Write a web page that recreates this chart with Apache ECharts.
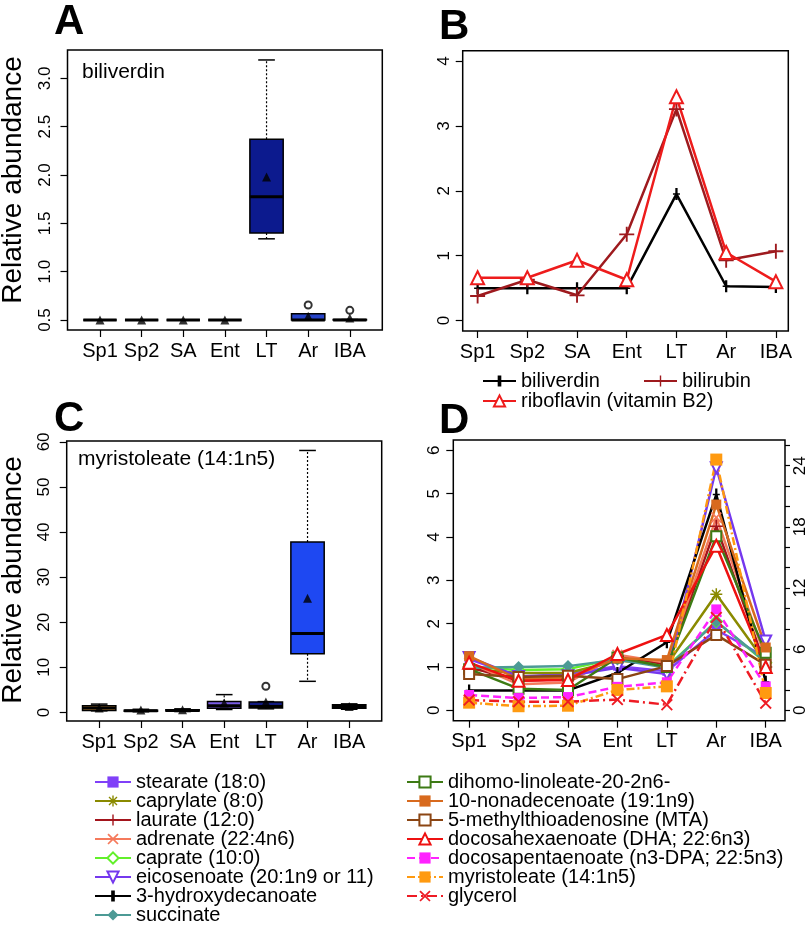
<!DOCTYPE html>
<html>
<head>
<meta charset="utf-8">
<script src="https://cdn.jsdelivr.net/npm/echarts@6/dist/echarts.min.js"></script>
<style>
html, body { margin: 0; padding: 0; background: #fff; }
#chart { width: 809px; height: 929px; }
</style>
</head>
<body>
<div id="chart"></div>
<script>
var categories = ['Sp1', 'Sp2', 'SA', 'Ent', 'LT', 'Ar', 'IBA'];
var catIdx = [0, 1, 2, 3, 4, 5, 6];

// A: biliverdin box stats [min, Q1, median, Q3, max]
var biliverdinBox = [
	[0.5, 0.5, 0.5, 0.5, 0.5],
	[0.5, 0.5, 0.5, 0.5, 0.5],
	[0.5, 0.5, 0.5, 0.5, 0.5],
	[0.5, 0.5, 0.5, 0.5, 0.5],
	[1.34, 1.40, 1.775, 2.37, 3.19],
	[0.5, 0.5, 0.5, 0.565, 0.565],
	[0.5, 0.5, 0.5, 0.505, 0.505]
];
var biliverdinMean = [0.5, 0.5, 0.5, 0.5, 1.98, 0.54, 0.52];
var biliverdinOutliers = [[5, 0.655], [6, 0.60]];
var biliverdinFill = ['#000', '#000', '#000', '#000', '#0c1a8e', '#2643c8', '#000'];

// B
var bBiliverdin = [0.5, 0.5, 0.5, 0.5, 1.95, 0.53, 0.52];
var bBilirubin = [0.38, 0.63, 0.39, 1.33, 3.26, 0.93, 1.07];
var bRiboflavin = [0.66, 0.66, 0.93, 0.63, 3.45, 1.05, 0.6];

// C: myristoleate box stats
var myristoleateBox = [
	[0.35, 0.45, 1.0, 1.5, 1.85],
	[0.15, 0.25, 0.35, 0.5, 0.7],
	[0.2, 0.3, 0.45, 0.6, 0.8],
	[0.65, 0.95, 1.5, 2.45, 3.95],
	[0.8, 1.0, 1.3, 2.3, 2.4],
	[6.9, 13.0, 17.5, 37.8, 58.1],
	[0.7, 0.95, 1.3, 1.7, 1.9]
];
var myristoleateMean = [1.0, 0.55, 0.6, 2.1, 2.3, 25.3, 1.3];
var myristoleateOutliers = [[4, 5.8]];
var myristoleateFill = ['#e8a040', '#1a1a1a', '#1a1a1a', '#7a5ce6', '#111a80', '#1e48f2', '#1a1a1a'];

// D: left axis
var stearate = [1.18, 0.78, 0.84, 1.02, 0.9, 1.86, 1.22];
var caprylate = [0.95, 0.86, 0.86, 1.15, 1.05, 2.68, 1.1];
var laurate = [1.0, 0.68, 0.72, 1.25, 1.05, 4.25, 1.0];
var adrenate = [1.1, 0.6, 0.64, 1.28, 1.1, 4.45, 1.2];
var caprate = [1.0, 0.93, 0.95, 1.2, 1.0, 2.05, 1.1];
var eicosenoate = [1.22, 0.78, 0.8, 0.98, 0.84, 5.6, 1.6];
var hydroxydecanoate = [0.46, 0.46, 0.46, 0.86, 1.57, 4.98, 0.66];
var succinate = [0.98, 1.0, 1.02, 1.17, 0.98, 2.05, 1.12];
var dihomoLinoleate = [0.95, 0.5, 0.47, 1.22, 1.0, 4.02, 1.33];
var nonadecenoate = [1.25, 0.72, 0.75, 1.2, 1.16, 4.75, 1.45];
var mta = [0.84, 0.77, 0.8, 0.72, 1.02, 1.74, 1.05];
var dha = [1.1, 0.68, 0.7, 1.3, 1.74, 3.8, 1.0];
// D: right axis
var dpa = [1.5, 1.2, 1.3, 2.3, 2.75, 9.9, 2.35];
var myristoleateD = [0.75, 0.4, 0.45, 2.0, 2.35, 24.6, 1.7];
var glycerol = [1.0, 0.85, 0.85, 1.05, 0.55, 9.1, 0.7];

var aTicks = [0.5, 1.0, 1.5, 2.0, 2.5, 3.0];
var bTicks = [0, 1, 2, 3, 4];
var cTicks = [0, 10, 20, 30, 40, 50, 60];
var dTicks = [0, 1, 2, 3, 4, 5, 6];
var dRightTicks = [0, 2, 4, 6, 8, 10, 12, 14, 16, 18, 20, 22, 24, 26];
var dRightLabels = [0, 6, 12, 18, 24];

var font = "'Liberation Sans', Arial, sans-serif";
var PLUS = 'path://M-1,-8H1V-1H8V1H1V8H-1V1H-8V-1H-1Z';
var VBAR = 'path://M-1.3,-8H1.3V-1H4V1H1.3V8H-1.3V1H-4V-1H-1.3Z';
var CROSS = 'path://M-6.4,-5L-5,-6.4L0,-1.4L5,-6.4L6.4,-5L1.4,0L6.4,5L5,6.4L0,1.4L-5,6.4L-6.4,5L-1.4,0Z';
var STAR = 'path://M-1,-8H1V-1H8V1H1V8H-1V1H-8V-1H-1ZM-6.4,-5L-5,-6.4L0,-1.4L5,-6.4L6.4,-5L1.4,0L6.4,5L5,6.4L0,1.4L-5,6.4L-6.4,5L-1.4,0Z';

function pairs(vals) {
	return vals.map(function (v, i) { return [i, v]; });
}
function boxData(stats) {
	return stats.map(function (s, i) { return [i].concat(s); });
}

function xCat(grid, min, max) {
	return {
		type: 'value', gridIndex: grid, min: min, max: max,
		axisLine: { show: false, onZero: false }, splitLine: { show: false },
		axisTick: { customValues: catIdx, length: 7, lineStyle: { color: '#000', width: 1.2 } },
		axisLabel: {
			customValues: catIdx, color: '#000', fontSize: 20, fontFamily: font, margin: 11,
			formatter: function (v) { return categories[Math.round(v)]; }
		}
	};
}
function yVal(grid, min, max, ticks, labels, fmt, margin, pos) {
	return {
		type: 'value', gridIndex: grid, min: min, max: max, position: pos || 'left',
		axisLine: { show: false, onZero: false }, splitLine: { show: false },
		axisTick: { customValues: ticks, length: pos === 'right' ? 5 : 7, lineStyle: { color: '#000', width: 1.2 } },
		axisLabel: {
			customValues: labels, rotate: 90, color: '#000', fontSize: 17, fontFamily: font, margin: margin,
			formatter: fmt
		}
	};
}

function renderBox(fills) {
	return function (params, api) {
		var i = api.value(0);
		var lo = api.coord([i, api.value(1)]);
		var q1 = api.coord([i, api.value(2)]);
		var md = api.coord([i, api.value(3)]);
		var q3 = api.coord([i, api.value(4)]);
		var hi = api.coord([i, api.value(5)]);
		var w = api.size([0.8, 0])[0];
		var x = lo[0];
		var dash = { stroke: '#000', lineWidth: 1.2, lineDash: [2, 2] };
		var solid = { stroke: '#000', lineWidth: 1.5 };
		return {
			type: 'group',
			children: [
				{ type: 'line', shape: { x1: x, y1: q3[1], x2: x, y2: hi[1] }, style: dash },
				{ type: 'line', shape: { x1: x, y1: q1[1], x2: x, y2: lo[1] }, style: dash },
				{ type: 'line', shape: { x1: x - w / 4, y1: hi[1], x2: x + w / 4, y2: hi[1] }, style: solid },
				{ type: 'line', shape: { x1: x - w / 4, y1: lo[1], x2: x + w / 4, y2: lo[1] }, style: solid },
				{ type: 'rect', shape: { x: x - w / 2, y: q3[1], width: w, height: q1[1] - q3[1] },
					style: { fill: fills[params.dataIndex], stroke: '#000', lineWidth: 1.5 } },
				{ type: 'line', shape: { x1: x - w / 2, y1: md[1], x2: x + w / 2, y2: md[1] },
					style: { stroke: '#000', lineWidth: 3 } }
			]
		};
	};
}

function boxSeries(grid, stats, fills) {
	return {
		type: 'custom', xAxisIndex: grid, yAxisIndex: grid,
		data: boxData(stats), encode: { x: 0, y: [1, 2, 3, 4, 5] },
		renderItem: renderBox(fills), z: 2, silent: true
	};
}
function meanSeries(grid, vals) {
	return {
		type: 'scatter', xAxisIndex: grid, yAxisIndex: grid, data: pairs(vals),
		symbol: 'triangle', symbolSize: 9, itemStyle: { color: '#000' }, z: 4, silent: true
	};
}
function outlierSeries(grid, pts) {
	return {
		type: 'scatter', xAxisIndex: grid, yAxisIndex: grid, data: pts,
		symbol: 'emptyCircle', symbolSize: 7, itemStyle: { color: '#000', borderWidth: 1.5 }, z: 4, silent: true
	};
}
function lineSeries(name, vals, color, symbol, size, xi, yi, extra) {
	var s = {
		name: name, type: 'line', xAxisIndex: xi, yAxisIndex: yi, data: pairs(vals),
		symbol: symbol, symbolSize: size, showAllSymbol: true, silent: true,
		lineStyle: { color: color, width: 2.5 },
		itemStyle: { color: color, borderWidth: 2 }
	};
	if (extra) {
		for (var k in extra) s[k] = extra[k];
	}
	return s;
}

var dStyles = [
	['stearate (18:0)', stearate, '#8040f8', 'rect', 9, 3, null],
	['caprylate (8:0)', caprylate, '#8a8a00', STAR, 12, 3, null],
	['laurate (12:0)', laurate, '#a3141c', PLUS, 13, 3, null],
	['adrenate (22:4n6)', adrenate, '#f57a5c', CROSS, 11, 3, null],
	['caprate (10:0)', caprate, '#62f02a', 'emptyDiamond', 11, 3, null],
	['eicosenoate (20:1n9 or 11)', eicosenoate, '#7538ee', 'emptyTriangle', 11, 3, 180],
	['3-hydroxydecanoate', hydroxydecanoate, '#000', VBAR, [7, 12], 3, null],
	['succinate', succinate, '#4c9a95', 'diamond', 12, 3, null],
	['dihomo-linoleate-20-2n6-', dihomoLinoleate, '#3d7a14', 'emptyRect', 10, 3, null],
	['10-nonadecenoate (19:1n9)', nonadecenoate, '#d86a1e', 'rect', 10, 3, null],
	['5-methylthioadenosine (MTA)', mta, '#8b4513', 'emptyRect', 10, 3, null],
	['docosahexaenoate (DHA; 22:6n3)', dha, '#ee1111', 'emptyTriangle', 12, 3, null],
	['docosapentaenoate (n3-DPA; 22:5n3)', dpa, '#ff22ff', 'rect', 10, 4, [8, 4]],
	['myristoleate (14:1n5)', myristoleateD, '#ff9a10', 'rect', 12, 4, [8, 3, 2, 3]],
	['glycerol', glycerol, '#ee1b24', CROSS, 12, 4, [10, 4, 2, 4]]
];

var series = [
	boxSeries(0, biliverdinBox, biliverdinFill),
	meanSeries(0, biliverdinMean),
	outlierSeries(0, biliverdinOutliers),
	lineSeries('biliverdin', bBiliverdin, '#000', VBAR, [7, 12], 1, 1),
	lineSeries('bilirubin', bBilirubin, '#9e1a1e', PLUS, 15, 1, 1),
	lineSeries('riboflavin (vitamin B2)', bRiboflavin, '#ee1c1c', 'emptyTriangle', 13, 1, 1),
	boxSeries(2, myristoleateBox, myristoleateFill),
	meanSeries(2, myristoleateMean),
	outlierSeries(2, myristoleateOutliers)
];
dStyles.forEach(function (d) {
	var extra = {};
	if (d[5] === 3 && d[6] === 180) extra.symbolRotate = 180;
	if (d[5] === 4) extra.lineStyle = { color: d[2], width: 2.5, type: d[6] };
	series.push(lineSeries(d[0], d[1], d[2], d[3], d[4], 3, d[5], extra));
});

function legendAt(names, left, top, orient, w) {
	return {
		data: names, left: left, top: top, orient: orient || 'horizontal',
		width: 420, height: 200,
		itemWidth: w || 36, itemHeight: 14, itemGap: orient === 'vertical' ? -1 : 0, padding: 0, selectedMode: false,
		textStyle: { fontSize: 20, fontFamily: font, color: '#000', lineHeight: 18.2 }
	};
}

var frame = { show: true, borderColor: '#000', borderWidth: 1.5, backgroundColor: 'transparent' };
function grid(left, top, width, height) {
	return Object.assign({ left: left, top: top, width: width, height: height }, frame);
}

function panelText(text, x, y, size, bold) {
	return {
		type: 'text', x: x, y: y, silent: true,
		style: { text: text, fontSize: size, fontWeight: bold ? 'bold' : 'normal', fontFamily: font, fill: '#000' }
	};
}
function sideName(x, y) {
	return {
		type: 'text', x: x, y: y, rotation: Math.PI / 2, silent: true,
		style: { text: 'Relative abundance', fontSize: 28, fontFamily: font, fill: '#000', align: 'center', verticalAlign: 'middle' }
	};
}

var chart = echarts.init(document.getElementById('chart'), null, { renderer: 'canvas' });
chart.setOption({
	animation: false,
	backgroundColor: '#fff',
	grid: [
		grid(67.5, 50, 314.8, 280),
		grid(462.7, 50.7, 325.6, 280.3),
		grid(66.7, 441, 315, 280),
		grid(453.3, 440, 333.4, 280.7)
	],
	xAxis: [
		xCat(0, -0.78, 6.78),
		xCat(1, -0.3, 6.25),
		xCat(2, -0.78, 6.78),
		xCat(3, -0.32, 6.39)
	],
	yAxis: [
		yVal(0, 0.397, 3.293, aTicks, aTicks, function (v) { return v.toFixed(1); }, 14),
		yVal(1, -0.16, 4.16, bTicks, bTicks, null, 10),
		yVal(2, -1.9, 60.2, cTicks, cTicks, null, 14),
		yVal(3, -0.24, 6.24, dTicks, dTicks, null, 10),
		yVal(3, -1.02, 26.52, dRightTicks, dRightLabels, null, 7, 'right')
	],
	legend: [
		legendAt(['biliverdin'], 482, 371, 'horizontal', 33),
		legendAt(['bilirubin'], 643, 371, 'horizontal', 33),
		legendAt(['riboflavin (vitamin B2)'], 482, 391, 'horizontal', 33),
		legendAt(dStyles.slice(0, 8).map(function (d) { return d[0]; }), 94, 772, 'vertical'),
		legendAt(dStyles.slice(8).map(function (d) { return d[0]; }), 406, 772, 'vertical')
	],
	graphic: [
		panelText('A', 54, 1, 42, true),
		panelText('B', 439, 6, 42, true),
		panelText('C', 54, 398, 42, true),
		panelText('D', 439, 400, 42, true),
		panelText('biliverdin', 82, 62, 21),
		panelText('myristoleate (14:1n5)', 78, 449, 21),
		sideName(13, 180),
		sideName(13, 580)
	],
	series: series
});
</script>
</body>
</html>
